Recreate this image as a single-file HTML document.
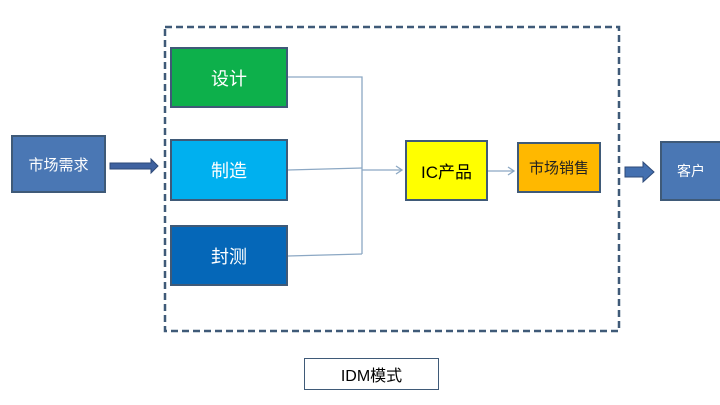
<!DOCTYPE html>
<html><head><meta charset="utf-8"><style>
body{margin:0;width:720px;height:405px;background:#fff;overflow:hidden;position:relative;font-family:"Liberation Sans","Noto Sans CJK SC",sans-serif}
.b{position:absolute;box-sizing:border-box;border:2px solid #3f5a78;display:flex;align-items:center;justify-content:center;color:#fff}
</style></head><body>
<svg width="720" height="405" style="position:absolute;left:0;top:0">
<rect x="165" y="27" width="454" height="304" fill="none" stroke="#3f5a78" stroke-width="2.5" stroke-dasharray="7,4"/>
<g stroke="#8ca8c4" stroke-width="1.3" fill="none">
<polyline points="288,77 362,77 362,254"/>
<line x1="288" y1="170" x2="362" y2="168"/>
<line x1="288" y1="256" x2="362" y2="254"/>
<line x1="362" y1="170" x2="402" y2="170"/>
<polyline points="396,166 402,170 396,174"/>
<line x1="488" y1="171" x2="514" y2="171"/>
<polyline points="508,167 514,171 508,175"/>
</g>
<polygon points="110,163 151,163 151,159 158,166 151,173 151,169 110,169" fill="#3f62a0" stroke="#2e4a78"/>
<polygon points="625,167 643,167 643,162 654,172 643,182 643,177 625,177" fill="#4470b0" stroke="#2e4a78"/>
</svg>
<div class="b" style="left:11px;top:135px;width:95px;height:58px;background:#4a77b4;font-size:15px">市场需求</div>
<div class="b" style="left:170px;top:47px;width:118px;height:61px;background:#0db04b;font-size:18px">设计</div>
<div class="b" style="left:170px;top:139px;width:118px;height:62px;background:#00b0ef;font-size:18px">制造</div>
<div class="b" style="left:170px;top:225px;width:118px;height:61px;background:#0567b8;font-size:18px">封测</div>
<div class="b" style="left:405px;top:140px;width:83px;height:61px;background:#ffff00;color:#000;font-size:17px">IC产品</div>
<div class="b" style="left:517px;top:142px;width:84px;height:51px;background:#ffb800;color:#222;font-size:15px">市场销售</div>
<div class="b" style="left:660px;top:141px;width:62px;height:60px;background:#4a77b4;font-size:14px">客户</div>
<div class="b" style="left:304px;top:358px;width:135px;height:32px;background:#fff;color:#000;border:1.5px solid #3f5a78;font-size:16px">IDM模式</div>
</body></html>
